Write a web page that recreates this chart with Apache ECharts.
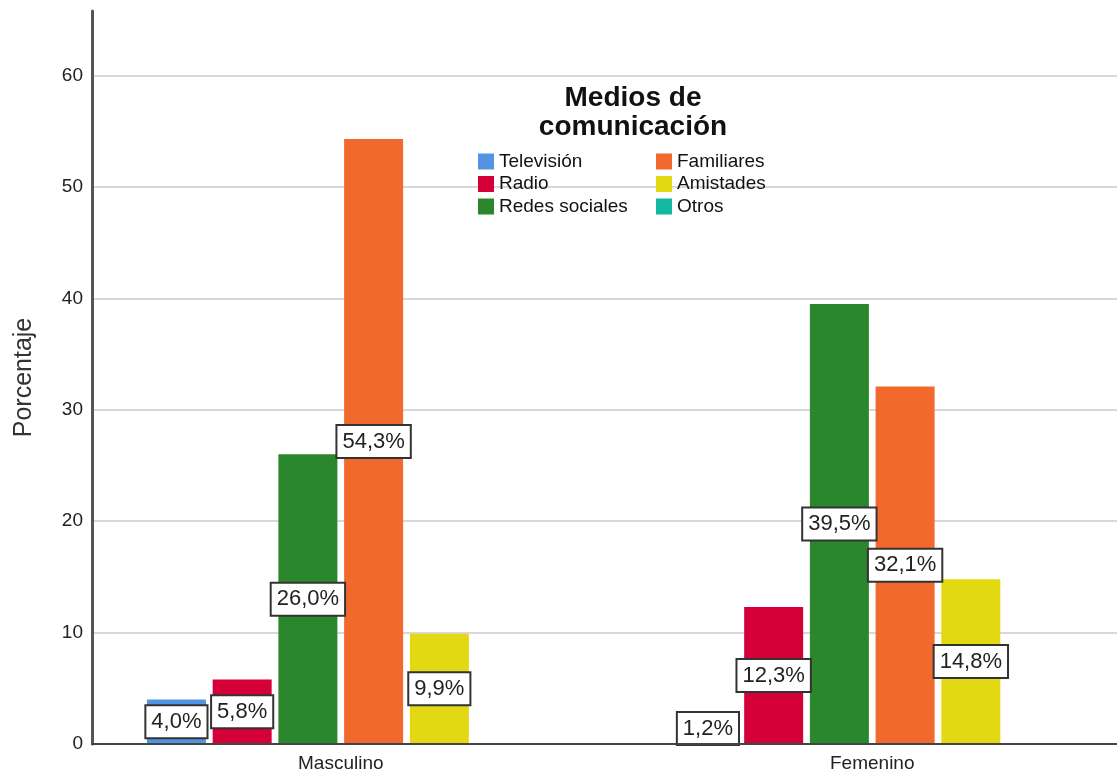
<!DOCTYPE html>
<html><head><meta charset="utf-8">
<script src="https://cdn.jsdelivr.net/npm/echarts@6/dist/echarts.min.js"></script>
<style>html,body{margin:0;padding:0;background:#fff}#c{width:1117px;height:773px}</style>
</head><body><div id="c"></div>
<script>
const categories = ['Masculino', 'Femenino'];
const seriesNames = ['Televisión', 'Radio', 'Redes sociales', 'Familiares', 'Amistades', 'Otros'];
const television = [4.0, 1.2];
const radio = [5.8, 12.3];
const redes = [26.0, 39.5];
const familiares = [54.3, 32.1];
const amistades = [9.9, 14.8];
const otros = [0, 0];
const yTicks = [0, 10, 20, 30, 40, 50, 60];

const values = [television, radio, redes, familiares, amistades, otros];
const colors = ['#5293e3', '#d50037', '#2b872b', '#f2692d', '#e3d912', '#14b7a1'];
const FONT = '"Liberation Sans", Arial, sans-serif';
const YMAX = 65.8;

const chart = echarts.init(document.getElementById('c'), null, {renderer: 'canvas'});

const series = seriesNames.map((name, i) => ({
  name: name,
  type: 'bar',
  xAxisIndex: 1,
  yAxisIndex: 1,
  barWidth: 59,
  barGap: '11.4%',
  itemStyle: {color: colors[i]},
  label: {
    show: true,
    position: 'inside',
    formatter: p => p.value > 0 ? p.value.toFixed(1).replace('.', ',') + '%' : '',
    backgroundColor: '#fff',
    borderColor: '#333',
    borderWidth: 2,
    padding: [5, 5, 4, 5],
    lineHeight: 22,
    fontSize: 22,
    fontFamily: FONT,
    color: '#222'
  },
  data: values[i].map(v => {
    if (v <= 0) return {value: v, label: {show: false}};
    if (v < 3) return {value: v, label: {position: 'insideBottom', distance: 0}};
    return v;
  })
}));

const legendCommon = {
  orient: 'vertical',
  top: 152,
  padding: 0,
  itemWidth: 16, itemHeight: 16, itemGap: 3.5,
  icon: 'rect',
  textStyle: {fontSize: 19, lineHeight: 19, fontFamily: FONT, color: '#111'}
};

chart.setOption({
  animation: false,
  backgroundColor: '#fff',
  title: {
    text: 'Medios de\ncomunicación',
    left: 633,
    top: 84,
    padding: 0,
    textAlign: 'center',
    textStyle: {fontSize: 28, fontWeight: 'bold', fontFamily: FONT, color: '#111', lineHeight: 29}
  },
  legend: [
    Object.assign({data: seriesNames.slice(0, 3), left: 478}, legendCommon),
    Object.assign({data: seriesNames.slice(3, 6), left: 656}, legendCommon)
  ],
  grid: [
    {left: 92, right: 0, top: 11, bottom: 29, outerBoundsMode: 'none', containLabel: false},
    {left: 75, width: 1063, top: 11, bottom: 29, outerBoundsMode: 'none', containLabel: false}
  ],
  xAxis: [
    {
      gridIndex: 0, type: 'category', data: categories, z: 5,
      axisLine: {lineStyle: {color: '#444', width: 2}},
      axisTick: {show: false}, axisLabel: {show: false}
    },
    {
      gridIndex: 1, type: 'category', data: categories,
      axisLine: {show: false}, axisTick: {show: false},
      axisLabel: {fontSize: 19, fontFamily: FONT, color: '#222', margin: 10}
    }
  ],
  yAxis: [
    {
      gridIndex: 0, type: 'value', min: 0, max: YMAX, interval: 10,
      name: 'Porcentaje', nameLocation: 'middle', nameGap: 55,
      nameTextStyle: {fontSize: 25, fontFamily: FONT, color: '#333'},
      axisLine: {show: true, lineStyle: {color: '#555', width: 3}},
      axisTick: {show: false},
      axisLabel: {
        fontSize: 19, fontFamily: FONT, color: '#222', margin: 9,
        showMaxLabel: false,
        formatter: v => yTicks.indexOf(v) >= 0 ? String(v) : ''
      },
      splitLine: {show: true, showMaxLine: false, lineStyle: {color: '#cbcbcb', width: 1.5}}
    },
    {gridIndex: 1, type: 'value', min: 0, max: YMAX, show: false}
  ],
  series: series
});
</script></body></html>
